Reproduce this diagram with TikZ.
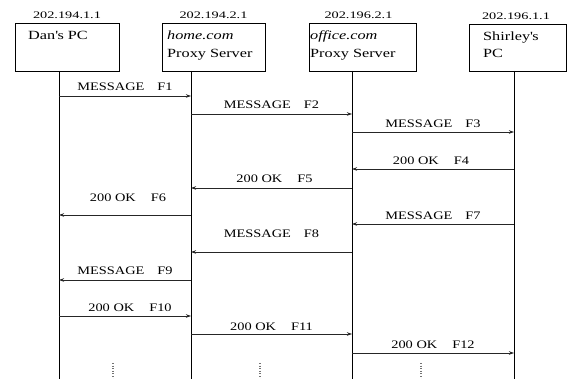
\documentclass[tikz,border=0pt]{standalone}
\usepackage{fontspec}
\setmainfont{Liberation Serif}
\newfontfamily\ipfont{Liberation Serif}[FakeStretch=1.43]
\newfontfamily\lblfont{Liberation Serif}[FakeStretch=1.25]
\newfontfamily\boxfont{Liberation Serif}[FakeStretch=1.3]
\usetikzlibrary{arrows.meta}
\begin{document}
\begin{tikzpicture}[x=1pt,y=-1pt,
  entity/.style={draw=black,line width=0.8pt,inner sep=0pt,outer sep=0pt},
  iplabel/.style={above=4.5pt,inner sep=0pt,font=\ipfont\fontsize{10pt}{12pt}\selectfont},
  boxtext/.style={anchor=base west,inner sep=0pt,font=\boxfont\fontsize{12.5pt}{14pt}\selectfont},
  lifeline/.style={draw=black,line width=0.8pt},
  msg/.style={draw=black!85,line width=0.7pt,-{Stealth[length=5pt,width=3.5pt]}},
  lbl/.style={inner sep=0pt,font=\lblfont\fontsize{11.5pt}{13pt}\selectfont},
  dots/.style={draw=black!55,line width=1.2pt,dash pattern=on 1pt off 1.6pt}
]
\useasboundingbox[fill=white] (0,0) rectangle (573,379);

% entity boxes
\node[entity,minimum width=104pt,minimum height=48pt] (dan) at (67,47) {};
\node[entity,minimum width=103pt,minimum height=48pt] (home) at (213.5,47) {};
\node[entity,minimum width=107pt,minimum height=48pt] (office) at (362.5,47) {};
\node[entity,minimum width=97pt,minimum height=47pt] (shirley) at (517.5,47.5) {};

\node[iplabel] (ipdan) at (dan.north) {202.194.1.1};
\node[iplabel] (iphome) at (home.north) {202.194.2.1};
\node[iplabel,xshift=-4pt] (ipoffice) at (office.north) {202.196.2.1};
\node[iplabel,xshift=-1.5pt] (ipshirley) at (shirley.north) {202.196.1.1};

\node[boxtext] (tdan) at (28,40) {Dan\textquotesingle s PC};
\node[boxtext] (thome1) at (167,40) {\itshape home.com};
\node[boxtext] (thome2) at (167,57.3) {Proxy Server};
\node[boxtext] (toffice1) at (310,40) {\itshape office.com};
\node[boxtext] (toffice2) at (310,57.3) {Proxy Server};
\node[boxtext] (tshirley1) at (483,40.5) {Shirley\textquotesingle s};
\node[boxtext] (tshirley2) at (483,57.3) {PC};

% lifelines
\coordinate (Atop) at (59,71);   \coordinate (Abot) at (59,379);
\coordinate (Btop) at (191,71);  \coordinate (Bbot) at (191,379);
\coordinate (Ctop) at (352,71);  \coordinate (Cbot) at (352,379);
\coordinate (Dtop) at (514,71);  \coordinate (Dbot) at (514,379);
\draw[lifeline] (Atop) -- (Abot);
\draw[lifeline] (Btop) -- (Bbot);
\draw[lifeline] (Ctop) -- (Cbot);
\draw[lifeline] (Dtop) -- (Dbot);

% message anchor points
\foreach \n/\y in {1/96,2/114,3/132,4/169,5/188,6/215,7/224,8/252,9/280,10/316,11/334,12/353}{
  \coordinate (A\n) at (59,\y);
  \coordinate (B\n) at (191,\y);
  \coordinate (C\n) at (352,\y);
  \coordinate (D\n) at (514,\y);
}

\draw[msg] (A1) -- node[lbl,above=5pt] (l1) {MESSAGE\hspace{13pt}F1} (B1);
\draw[msg] (B2) -- node[lbl,above=5pt] (l2) {MESSAGE\hspace{13pt}F2} (C2);
\draw[msg] (C3) -- node[lbl,above=4pt] (l3) {MESSAGE\hspace{13pt}F3} (D3);
\draw[msg] (D4) -- node[lbl,above=4.5pt,xshift=-2pt] (l4) {200 OK\hspace{15pt}F4} (C4);
\draw[msg] (C5) -- node[lbl,above=5pt,xshift=3pt] (l5) {200 OK\hspace{15pt}F5} (B5);
\draw[msg] (B6) -- node[lbl,above=13pt,xshift=3pt] (l6) {200 OK\hspace{15pt}F6} (A6);
\draw[msg] (D7) -- node[lbl,above=4pt] (l7) {MESSAGE\hspace{13pt}F7} (C7);
\draw[msg] (C8) -- node[lbl,above=14pt] (l8) {MESSAGE\hspace{13pt}F8} (B8);
\draw[msg] (B9) -- node[lbl,above=5pt] (l9) {MESSAGE\hspace{13pt}F9} (A9);
\draw[msg] (A10) -- node[lbl,above=4pt,xshift=5pt] (l10) {200 OK\hspace{15pt}F10} (B10);
\draw[msg] (B11) -- node[lbl,above=3.5pt] (l11) {200 OK\hspace{15pt}F11} (C11);
\draw[msg] (C12) -- node[lbl,above=4pt] (l12) {200 OK\hspace{15pt}F12} (D12);

% continuation dots
\coordinate (e1) at (113,363); \coordinate (e1b) at (113,379);
\coordinate (e2) at (260,363); \coordinate (e2b) at (260,379);
\coordinate (e3) at (421,363); \coordinate (e3b) at (421,379);
\draw[dots] (e1) -- (e1b);
\draw[dots] (e2) -- (e2b);
\draw[dots] (e3) -- (e3b);
\end{tikzpicture}
\end{document}
